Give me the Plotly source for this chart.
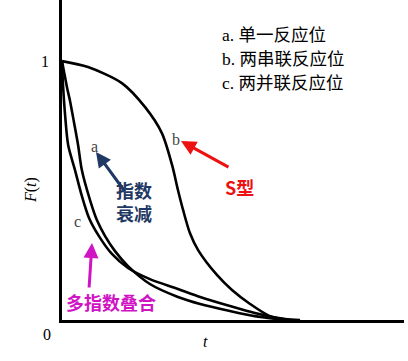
import plotly.graph_objects as go

# Normalized response F(t) versus time (arbitrary units) for three site models
t_a = [0, 0.06, 0.15, 0.23, 0.35, 0.47, 0.58, 0.82, 1.02, 1.26, 1.55, 1.93, 2.57, 3.39, 4.04, 4.91, 5.64, 6.52]
F_a = [1.0, 0.958, 0.896, 0.849, 0.764, 0.676, 0.579, 0.463, 0.386, 0.324, 0.266, 0.208, 0.139, 0.089, 0.062, 0.035, 0.015, 0.0]

t_b = [0, 0.76, 1.75, 2.43, 2.92, 3.22, 3.39, 3.54, 3.74, 3.98, 4.53, 4.97, 5.50, 6.08, 6.67]
F_b = [1.0, 0.977, 0.915, 0.822, 0.722, 0.598, 0.502, 0.425, 0.336, 0.270, 0.174, 0.116, 0.062, 0.015, 0.0]

t_c = [0, 0.03, 0.09, 0.18, 0.38, 0.58, 0.79, 1.08, 1.46, 1.93, 2.57, 3.39, 4.04, 4.91, 5.64, 6.52, 6.96]
F_c = [1.0, 0.907, 0.792, 0.676, 0.579, 0.479, 0.394, 0.324, 0.255, 0.201, 0.158, 0.120, 0.089, 0.054, 0.027, 0.004, 0.0]

legend_lines = ["a. 单一反应位", "b. 两串联反应位", "c. 两并联反应位"]
curve_tags = ["a", "b", "c"]
y_marks = ["1", "0"]

X_MAX, Y_MAX = 10.0, 1.236
W, H = 408, 361
L, R, T, B = 62, 4, 0, 41


def fx(x):
    return (x - L) / (W - L - R)


def fy(y):
    return (H - B - y) / (H - T - B)


fig = go.Figure()
for tt, ff in [(t_a, F_a), (t_b, F_b), (t_c, F_c)]:
    fig.add_trace(go.Scatter(
        x=tt, y=ff, mode="lines",
        line=dict(color="black", width=2.6, shape="spline", smoothing=0.8),
        hoverinfo="skip", showlegend=False,
    ))

serif = "Liberation Serif, Times New Roman, serif"
cjk_serif = "Liberation Serif, Noto Sans CJK SC, serif"
cjk_bold = "Noto Sans CJK SC, sans-serif"

ann = []


def text(x, y, s, size, color="black", family=serif, xanchor="center", **kw):
    ann.append(dict(x=fx(x), y=fy(y), xref="paper", yref="paper", text=s, showarrow=False,
                    xanchor=xanchor, yanchor="middle",
                    font=dict(size=size, color=color, family=family), **kw))


def arrow(x0, y0, x1, y1, color):
    ann.append(dict(x=fx(x1) * X_MAX, y=fy(y1) * Y_MAX, ax=fx(x0) * X_MAX, ay=fy(y0) * Y_MAX,
                    xref="x", yref="y", axref="x", ayref="y", text="", showarrow=True,
                    arrowhead=2, arrowsize=1.0, arrowwidth=3, arrowcolor=color))


# axis value marks
text(45, 62, y_marks[0], 16)
text(47, 334, y_marks[1], 16)
text(205, 341, "<i>t</i>", 16)
text(31, 190, "<i>F</i>(<i>t</i>)", 16, textangle=-90)

# model key
for i, s in enumerate(legend_lines):
    text(220, 35 + i * 24, s, 17.5, family=cjk_serif, xanchor="left")

# curve tags
text(94, 146, curve_tags[0], 16, color="#444444")
text(176, 139, curve_tags[1], 16, color="#444444")
text(77, 221, curve_tags[2], 16, color="#444444")

# callouts
navy = "#1f3864"
red = "#ee1111"
magenta = "#d014c4"
arrow(126, 193, 96, 152, navy)
text(134, 201, "<b>指数<br>衰减</b>", 18, color=navy, family=cjk_bold)

arrow(230, 168, 181, 141, red)
text(239, 187, "<b>S型</b>", 18, color=red, family=cjk_bold)

arrow(89, 289, 92, 243, magenta)
text(111, 302, "<b>多指数叠合</b>", 18, color=magenta, family=cjk_bold)

fig.update_layout(
    width=W, height=H, margin=dict(l=L, r=R, t=T, b=B),
    plot_bgcolor="white", paper_bgcolor="white",
    annotations=ann,
    xaxis=dict(range=[0, X_MAX], showgrid=False, zeroline=False, showticklabels=False,
               ticks="", showline=True, linecolor="black", linewidth=3),
    yaxis=dict(range=[0, Y_MAX], showgrid=False, zeroline=False, showticklabels=False,
               ticks="", showline=True, linecolor="black", linewidth=3),
)

fig.write_html("out.html")
